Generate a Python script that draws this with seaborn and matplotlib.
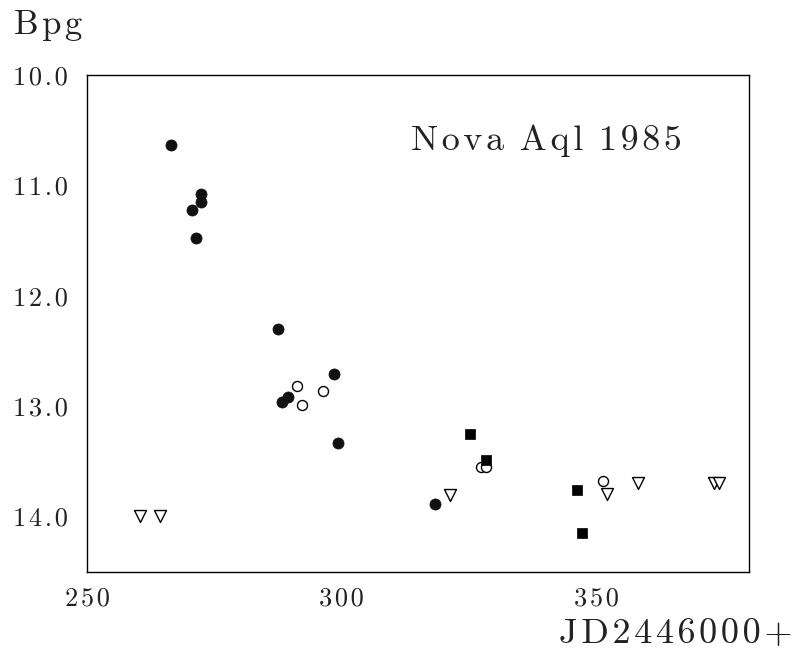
import matplotlib
matplotlib.use("Agg")
import matplotlib.pyplot as plt
import seaborn as sns
from matplotlib.ticker import MultipleLocator

# Nova Aql 1985, photographic B magnitudes
filled_jd = [266.4, 270.5, 271.4, 272.4, 272.4, 287.4, 288.3, 289.4, 298.4, 299.3, 318.3]
filled_mag = [10.63, 11.22, 11.48, 11.08, 11.15, 12.30, 12.96, 12.92, 12.71, 13.33, 13.89]

open_jd = [291.3, 292.3, 296.4, 327.4, 328.3, 351.3]
open_mag = [12.82, 12.99, 12.86, 13.55, 13.55, 13.68]

square_jd = [325.2, 328.3, 346.2, 347.2]
square_mag = [13.25, 13.49, 13.76, 14.15]

# upper limits
limit_jd = [260.4, 264.4, 321.3, 352.2, 358.3, 373.1, 374.2]
limit_mag = [14.00, 14.00, 13.81, 13.80, 13.70, 13.70, 13.70]

x_ticks = [250, 300, 350]
x_labels = ["250", "300", "350"]
y_ticks = [10.0, 11.0, 12.0, 13.0, 14.0]
y_labels = ["10.0", "11.0", "12.0", "13.0", "14.0"]

HAIR = "\u200a"


def spaced(s, gap=HAIR):
    # old plotter lettering is spread out a little
    return gap.join(s)


sns.set_style("white")
plt.rcParams["font.family"] = ["cmr10", "DejaVu Serif"]
plt.rcParams["mathtext.fontset"] = "cm"

fig = plt.figure(figsize=(8, 6.54), dpi=100)
ax = fig.add_axes([0.109, 0.126, 0.827, 0.759])

sns.scatterplot(x=filled_jd, y=filled_mag, ax=ax, marker="o", s=64,
                color="#111111", edgecolor="#111111", linewidth=0.5)
sns.scatterplot(x=open_jd, y=open_mag, ax=ax, marker="o", s=52,
                color="white", edgecolor="black", linewidth=1.0)
sns.scatterplot(x=square_jd, y=square_mag, ax=ax, marker="s", s=52,
                color="black", edgecolor="black", linewidth=0.5)
sns.scatterplot(x=limit_jd, y=limit_mag, ax=ax, marker="v", s=74,
                color="white", edgecolor="black", linewidth=1.0)

ax.set_xlim(250, 380)
ax.set_ylim(14.5, 10.0)

ax.set_xticks(x_ticks)
ax.set_xticklabels([spaced(t) for t in x_labels])
ax.set_yticks(y_ticks)
ax.set_yticklabels([spaced(t) for t in y_labels])
ax.xaxis.set_minor_locator(MultipleLocator(10))
ax.yaxis.set_minor_locator(MultipleLocator(0.5))

ax.tick_params(axis="both", which="both", direction="in", top=False, right=False,
               color="black", width=0.8)
ax.tick_params(axis="both", which="major", length=7, labelsize=19, labelcolor="#222222")
ax.tick_params(axis="both", which="minor", length=6)
ax.tick_params(axis="x", which="major", pad=11)
ax.tick_params(axis="y", which="major", pad=14)

for side in ["left", "right", "top", "bottom"]:
    ax.spines[side].set_visible(True)
    ax.spines[side].set_color("black")
    ax.spines[side].set_linewidth(1.0)

ax.set_xlabel("")
ax.set_ylabel("")

ax.text(0.490, 0.8495, (" " + HAIR).join(spaced(w) for w in ["Nova", "Aql", "1985"]),
        transform=ax.transAxes, fontsize=26, ha="left", va="baseline", color="#222222")
fig.text(0.0175, 0.948, spaced("Bpg"), fontsize=25, ha="left", va="baseline",
         color="#222222")
fig.text(0.991, 0.0168, spaced("JD2446000+"), fontsize=26, ha="right",
         va="baseline", color="#222222")

fig.savefig("out.png", dpi=100)
